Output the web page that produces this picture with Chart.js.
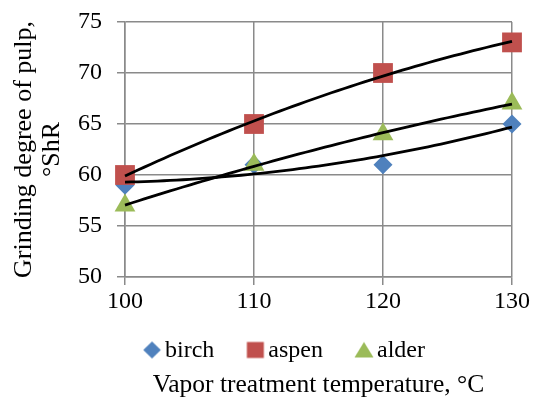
<!DOCTYPE html>
<html>
<head>
<meta charset="utf-8">
<script src="https://cdn.jsdelivr.net/npm/chart.js@4/dist/chart.umd.min.js"></script>
<style>
html,body{margin:0;padding:0;background:#fff;}
#wrap{width:533px;height:398px;}
</style>
</head>
<body>
<div id="wrap"><canvas id="c" width="533" height="398"></canvas></div>
<script>
const temperatures = [100, 110, 120, 130];
const birch = [59, 61, 61, 65];
const aspen = [60, 65, 70, 73];
const alder = [57, 61, 64, 67];
const seriesNames = ['birch', 'aspen', 'alder'];
const seriesColors = ['#4f81bd', '#c0504d', '#9bbb59'];
const yMin = 50, yMax = 75, yStep = 5;
const xMin = 100, xMax = 130, xStep = 10;

const FONT = 'Liberation Serif';
const GRID = '#8a8a8a';
Chart.defaults.font.family = FONT;
Chart.defaults.color = '#000';

function quadFit(xs, ys) {
  const n = xs.length;
  const m = xs.reduce((s, v) => s + v, 0) / n;
  const S = [0,0,0,0,0], T = [0,0,0];
  for (let i = 0; i < n; i++) {
    const x = xs[i] - m, y = ys[i];
    for (let k = 0; k < 5; k++) S[k] += Math.pow(x, k);
    for (let k = 0; k < 3; k++) T[k] += y * Math.pow(x, k);
  }
  const A = [[S[0],S[1],S[2],T[0]],[S[1],S[2],S[3],T[1]],[S[2],S[3],S[4],T[2]]];
  for (let i = 0; i < 3; i++) {
    let p = i;
    for (let r = i + 1; r < 3; r++) if (Math.abs(A[r][i]) > Math.abs(A[p][i])) p = r;
    [A[i], A[p]] = [A[p], A[i]];
    for (let r = 0; r < 3; r++) {
      if (r === i) continue;
      const f = A[r][i] / A[i][i];
      for (let c = i; c < 4; c++) A[r][c] -= f * A[i][c];
    }
  }
  const coef = [A[0][3]/A[0][0], A[1][3]/A[1][1], A[2][3]/A[2][2]];
  return x => { const d = x - m; return coef[0] + coef[1]*d + coef[2]*d*d; };
}

const toPts = ys => temperatures.map((t, i) => ({x: t, y: ys[i]}));

const LEG_BOX = 30, LEG_OFF = 14, LEG_W = 50, LEG_H = 24;
function legendIcon(kind, color) {
  const c = document.createElement('canvas');
  c.width = LEG_W; c.height = LEG_H;
  const g = c.getContext('2d');
  const cx = LEG_W / 2 + LEG_OFF, cy = LEG_H / 2 - 0.5;
  g.fillStyle = color;
  g.beginPath();
  if (kind === 'diamond') {
    g.moveTo(cx, cy - 8.5); g.lineTo(cx + 8.8, cy); g.lineTo(cx, cy + 8.5); g.lineTo(cx - 8.8, cy);
  } else if (kind === 'square') {
    g.rect(cx - 8.5, cy - 8, 17, 16);
  } else {
    g.moveTo(cx, cy - 8); g.lineTo(cx + 9.5, cy + 7.5); g.lineTo(cx - 9.5, cy + 7.5);
  }
  g.closePath();
  g.fill();
  return c;
}
const legendIcons = [legendIcon('diamond', seriesColors[0]), legendIcon('square', seriesColors[1]), legendIcon('triangle', seriesColors[2])];

const trendPlugin = {
  id: 'trend',
  afterDatasetsDraw(chart) {
    const {ctx, scales: {x, y}} = chart;
    ctx.save();
    ctx.strokeStyle = '#000';
    ctx.lineWidth = 2.8;
    [birch, aspen, alder].forEach(ys => {
      const f = quadFit(temperatures, ys);
      const x0 = temperatures[0], x1 = temperatures[temperatures.length - 1];
      const N = 60;
      ctx.beginPath();
      for (let i = 0; i <= N; i++) {
        const xv = x0 + (x1 - x0) * i / N;
        const px = x.getPixelForValue(xv), py = y.getPixelForValue(f(xv));
        if (i === 0) ctx.moveTo(px, py); else ctx.lineTo(px, py);
      }
      ctx.stroke();
    });
    ctx.restore();
  }
};

new Chart(document.getElementById('c'), {
  type: 'scatter',
  data: {
    datasets: [
      {label: seriesNames[0], data: toPts(birch), pointStyle: 'rectRot', pointRadius: 9.5, pointHoverRadius: 9.5,
       backgroundColor: seriesColors[0], borderColor: seriesColors[0], borderWidth: 0, order: 3, clip: false},
      {label: seriesNames[1], data: toPts(aspen), pointStyle: 'rect', pointRadius: 14, pointHoverRadius: 14,
       backgroundColor: seriesColors[1], borderColor: seriesColors[1], borderWidth: 0, order: 2, clip: false},
      {label: seriesNames[2], data: toPts(alder), pointStyle: 'triangle', pointRadius: 12, pointHoverRadius: 12,
       backgroundColor: seriesColors[2], borderColor: seriesColors[2], borderWidth: 0, order: 1, clip: false}
    ]
  },
  options: {
    responsive: false,
    animation: false,
    layout: {padding: {left: 36, right: 21, top: 22, bottom: 0}},
    scales: {
      x: {
        type: 'linear', min: xMin, max: xMax,
        ticks: {stepSize: xStep, color: '#000', font: {family: FONT, size: 24}, padding: 2, maxRotation: 0},
        grid: {color: GRID, lineWidth: 1.5, tickLength: 8, drawTicks: true},
        border: {color: GRID, width: 1.5},
        afterFit(s) { s.height = 49.5; s.paddingLeft = 0; s.paddingRight = 0; }
      },
      y: {
        min: yMin, max: yMax,
        ticks: {stepSize: yStep, color: '#000', font: {family: FONT, size: 24}, padding: 15},
        grid: {color: GRID, lineWidth: 1.5, tickLength: 8, drawTicks: true},
        border: {color: GRID, width: 1.5},
        title: {display: true, text: ['Grinding degree of pulp,', '°ShR'], color: '#000',
                font: {family: FONT, size: 26, lineHeight: 1.08}, padding: {top: -26, bottom: 0}},
        afterFit(s) { s.width = 89; s.paddingTop = 0; s.paddingBottom = 0; }
      }
    },
    plugins: {
      legend: {
        position: 'bottom',
        fullSize: true,
        labels: {
          usePointStyle: true, pointStyleWidth: LEG_BOX, boxHeight: 24, padding: 12, color: '#000',
          font: {family: FONT, size: 24},
          sort: (a, b) => a.datasetIndex - b.datasetIndex,
          generateLabels(chart) {
            const items = Chart.defaults.plugins.legend.labels.generateLabels(chart);
            items.forEach(it => { it.pointStyle = legendIcons[it.datasetIndex]; it.rotation = 0; });
            return items;
          }
        }
      },
      title: {
        display: true, position: 'bottom', fullSize: false, text: 'Vapor treatment temperature, °C', color: '#000',
        font: {family: FONT, size: 25.5, weight: 'normal', lineHeight: 1.0}, padding: {top: 0, bottom: 0}
      },
      tooltip: {enabled: false}
    }
  },
  plugins: [trendPlugin]
});
</script>
</body>
</html>
